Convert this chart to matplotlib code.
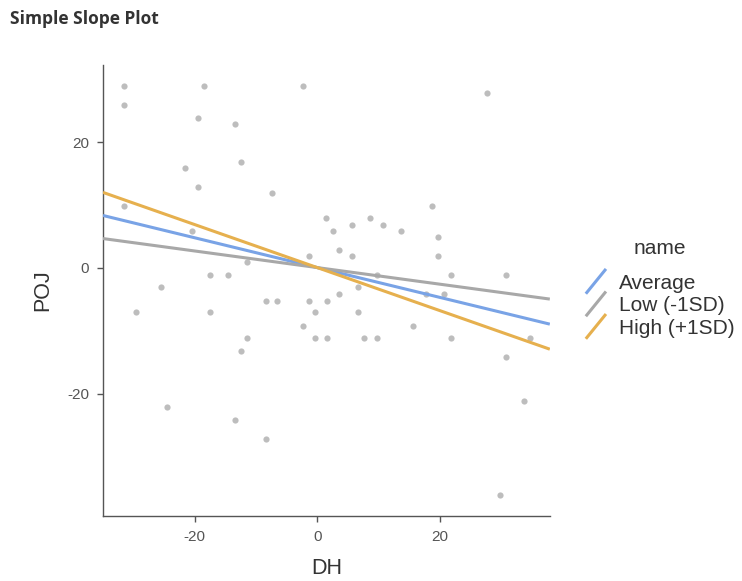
import matplotlib
matplotlib.use("Agg")
import matplotlib.pyplot as plt
from matplotlib.lines import Line2D
from matplotlib.legend_handler import HandlerBase

plt.rcParams['font.family'] = ['Liberation Sans', 'DejaVu Sans']
plt.rcParams['axes.unicode_minus'] = False

# scatter data (DH, POJ)
dh = [-31.6, -31.6, -18.5, -2.4, -19.5, -13.4, -21.6, -12.5, -19.5, -7.4,
      -31.6, 1.5, -20.5, -1.4, -11.5, -17.5, -14.5, -25.5, 27.8, 18.7,
      5.6, 2.6, 8.7, 10.7, 13.7, 19.8, 3.6, 5.6, 19.8, 9.7,
      21.8, 30.8, 6.6, -29.6, -17.5, -8.4, -6.5, -1.4, -0.4, -2.4,
      -0.4, -11.5, -12.5, -24.5, -13.5, -8.4, 1.6, 3.6, 6.6, 1.6,
      7.6, 9.7, 15.7, 17.7, 20.7, 21.8, 30.8, 34.8, 33.8, 29.8]
poj = [28.9, 25.9, 28.9, 28.9, 23.9, 22.9, 15.9, 16.9, 12.9, 11.9,
       9.8, 7.9, 5.9, 1.9, 0.9, -1.1, -1.1, -3.1, 27.9, 9.8,
       6.9, 5.9, 7.9, 6.9, 5.9, 4.9, 2.9, 1.9, 1.9, -1.1,
       -1.1, -1.1, -3.1, -7.1, -7.1, -5.2, -5.2, -5.2, -7.1, -9.2,
       -11.2, -11.2, -13.2, -22.2, -24.2, -27.2, -5.2, -4.2, -7.1, -11.2,
       -11.2, -11.2, -9.2, -4.2, -4.2, -11.2, -14.2, -11.2, -21.2, -36.2]

# simple slopes
line_names = ['Average', 'Low (-1SD)', 'High (+1SD)']
slopes = [-0.237, -0.132, -0.342]
intercepts = [0.05, 0.05, 0.05]
line_colors = ['#79a3e6', '#a8a8a8', '#e6b04e']

x_lim = (-35, 38)
y_lim = (-39.5, 32.3)


class DiagonalHandler(HandlerBase):
    def create_artists(self, legend, orig_handle, xdescent, ydescent,
                       width, height, fontsize, trans):
        ln = Line2D([-xdescent + 1, -xdescent + width - 1],
                    [-ydescent - 0.35 * height, -ydescent + 1.35 * height],
                    color=orig_handle.get_color(),
                    linewidth=orig_handle.get_linewidth(),
                    solid_capstyle='butt')
        ln.set_transform(trans)
        return [ln]


fig = plt.figure(figsize=(7.42, 5.81), dpi=100)
ax = fig.add_axes([0.1388, 0.1119, 0.6022, 0.7762])

ax.scatter(dh, poj, s=20, color='#bdbdbd', linewidths=0, zorder=2)

handles = []
for name, b, a, c in zip(line_names, slopes, intercepts, line_colors):
    h, = ax.plot(x_lim, [a + b * x_lim[0], a + b * x_lim[1]], color=c,
                 linewidth=2.2, label=name, zorder=3, solid_capstyle='butt')
    handles.append(h)

ax.set_xlim(*x_lim)
ax.set_ylim(*y_lim)
ax.set_xticks([-20, 0, 20])
ax.set_yticks([-20, 0, 20])
ax.spines['top'].set_visible(False)
ax.spines['right'].set_visible(False)
for s in ['left', 'bottom']:
    ax.spines[s].set_color('#555555')
    ax.spines[s].set_linewidth(1.0)
ax.tick_params(colors='#555555', labelcolor='#555555', labelsize=11,
               length=4, width=1, pad=6)
ax.set_xlabel('DH', fontsize=15.5, color='#333333', labelpad=10)
ax.set_ylabel('POJ', fontsize=15.5, color='#333333', labelpad=10)

leg = fig.legend(handles=handles, labels=line_names, title='name',
                 loc='center left', bbox_to_anchor=(0.768, 0.504),
                 frameon=False, fontsize=15, title_fontsize=15,
                 handlelength=1.1, handletextpad=0.55, labelspacing=0.17,
                 borderpad=0.2,
                 handler_map={Line2D: DiagonalHandler()})
# extra gap between legend title and entries
leg._legend_box.sep = 11.5
for t in leg.get_texts():
    t.set_color('#333333')
leg.get_title().set_color('#333333')

fig.text(0.013, 0.968, 'Simple Slope Plot', fontsize=12.5, fontweight='bold',
         family=['Open Sans', 'DejaVu Sans'], color='#333333', va='center')

fig.savefig('out.png', dpi=100)
